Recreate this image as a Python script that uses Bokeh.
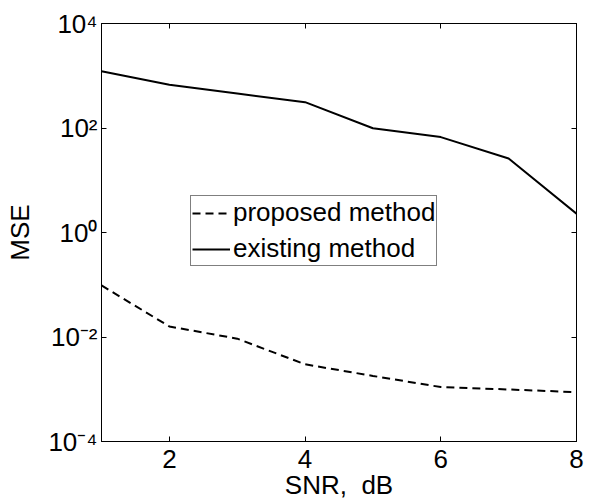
from bokeh.plotting import figure
from bokeh.models import (Range1d, FixedTicker, LinearAxis, LogAxis, Legend,
                          CustomJSTickFormatter)
from bokeh.embed import file_html
from bokeh.resources import INLINE

# ---- data ----
SNR = [1, 2, 3, 4, 5, 6, 7, 8]
MSE_PROPOSED = [0.097, 0.0159, 0.0093, 0.0030, 0.0018, 0.0011, 0.00099, 0.00088]
MSE_EXISTING = [1220, 670, 457, 312, 99, 67, 26, 2.3]

X_TICKS = [2, 4, 6, 8]
Y_TICKS = [1e-4, 1e-2, 1, 1e2, 1e4]
Y_TICK_LABELS = ["10\u207b\u2074", "10\u207b\u00b2", "10\u2070", "10\u00b2", "10\u2074"]

X_LABEL = "SNR,\u00a0 dB"
Y_LABEL = "MSE"
SERIES_NAMES = ["proposed method", "existing method"]

X_MIN, X_MAX = 1, 8
Y_MIN, Y_MAX = 1e-4, 1e4

FONT = "Liberation Sans"
BIG = "26px"


def blank():
    return CustomJSTickFormatter(code="return ''")


y_formatter = CustomJSTickFormatter(
    args=dict(tick_vals=Y_TICKS, tick_labels=Y_TICK_LABELS),
    code="""
    for (let i = 0; i < tick_vals.length; i++) {
        if (Math.abs(Math.log10(tick) - Math.log10(tick_vals[i])) < 1e-6) return tick_labels[i];
    }
    return '';
    """)

p = figure(frame_width=475, frame_height=418,
           y_axis_type="log",
           x_range=Range1d(X_MIN, X_MAX), y_range=Range1d(Y_MIN, Y_MAX),
           output_backend="svg", toolbar_location=None,
           min_border_left=101, min_border_right=9,
           min_border_top=23, min_border_bottom=55)

p.background_fill_color = "white"
p.border_fill_color = "white"
p.outline_line_color = "black"
p.outline_line_width = 1
p.xgrid.visible = False
p.ygrid.visible = False

# bottom axis
xa = p.xaxis[0]
xa.ticker = FixedTicker(ticks=X_TICKS)
xa.major_tick_in = 5
xa.major_tick_out = 0
xa.minor_tick_in = 0
xa.minor_tick_out = 0
xa.axis_line_color = "black"
xa.major_tick_line_color = "black"
xa.major_label_text_font = FONT
xa.major_label_text_font_size = BIG
xa.major_label_text_color = "black"
xa.major_label_standoff = 8
xa.axis_label = X_LABEL
xa.axis_label_text_font = FONT
xa.axis_label_text_font_size = BIG
xa.axis_label_text_font_style = "normal"
xa.axis_label_text_color = "black"
xa.axis_label_standoff = -1

# left axis
ya = p.yaxis[0]
ya.ticker = FixedTicker(ticks=Y_TICKS)
ya.formatter = y_formatter
ya.major_tick_in = 5
ya.major_tick_out = 0
ya.minor_tick_in = 0
ya.minor_tick_out = 0
ya.axis_line_color = "black"
ya.major_tick_line_color = "black"
ya.major_label_text_font = FONT
ya.major_label_text_font_size = BIG
ya.major_label_text_color = "black"
ya.major_label_standoff = 4
ya.axis_label = Y_LABEL
ya.axis_label_text_font = FONT
ya.axis_label_text_font_size = BIG
ya.axis_label_text_font_style = "normal"
ya.axis_label_text_color = "black"
ya.axis_label_standoff = 10

# top and right axes (ticks only)
top = LinearAxis(ticker=FixedTicker(ticks=X_TICKS), formatter=blank(),
                 major_tick_in=5, major_tick_out=0,
                 minor_tick_in=0, minor_tick_out=0,
                 major_label_standoff=0, axis_line_color="black")
right = LogAxis(ticker=FixedTicker(ticks=Y_TICKS), formatter=blank(),
                major_tick_in=5, major_tick_out=0,
                minor_tick_in=0, minor_tick_out=0,
                major_label_standoff=0, axis_line_color="black")
p.add_layout(top, "above")
p.add_layout(right, "right")

# series
r1 = p.line(SNR, MSE_PROPOSED, line_color="black", line_width=2, line_dash="8 5")
r2 = p.line(SNR, MSE_EXISTING, line_color="black", line_width=2)

legend = Legend(items=[(SERIES_NAMES[0], [r1]), (SERIES_NAMES[1], [r2])],
                location=(89, 175), margin=0, padding=1, spacing=5,
                glyph_width=38, glyph_height=24, label_height=24, label_standoff=3,
                label_text_font=FONT, label_text_font_size=BIG, label_text_color="black",
                border_line_color="black", border_line_width=1,
                background_fill_color="white", background_fill_alpha=1.0)
p.add_layout(legend, "center")

open("out.html", "w").write(file_html(p, INLINE))
